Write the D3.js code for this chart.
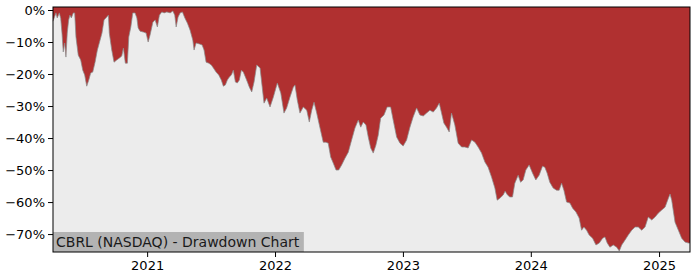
<!DOCTYPE html>
<html><head><meta charset="utf-8">
<script src="https://cdn.jsdelivr.net/npm/d3@7"></script>
<style>body{margin:0;background:#fff}svg{display:block}text{font-family:"DejaVu Sans",sans-serif}</style>
</head><body><svg id="c" width="700" height="280"></svg>
<script>
// decimal years
const dates = [2020.266,2020.289,2020.299,2020.315,2020.326,2020.336,2020.346,2020.357,2020.367,2020.377,2020.388,2020.398,2020.409,2020.424,2020.435,2020.445,2020.463,2020.482,2020.498,2020.513,2020.529,2020.545,2020.560,2020.576,2020.594,2020.612,2020.627,2020.648,2020.664,2020.685,2020.698,2020.705,2020.724,2020.742,2020.763,2020.784,2020.802,2020.815,2020.830,2020.846,2020.857,2020.873,2020.888,2020.906,2020.920,2020.930,2020.945,2020.971,2020.992,2021.008,2021.023,2021.045,2021.063,2021.080,2021.096,2021.115,2021.133,2021.154,2021.180,2021.201,2021.216,2021.227,2021.242,2021.258,2021.276,2021.295,2021.315,2021.336,2021.357,2021.367,2021.383,2021.409,2021.430,2021.445,2021.461,2021.482,2021.502,2021.518,2021.539,2021.560,2021.580,2021.596,2021.612,2021.627,2021.643,2021.659,2021.674,2021.690,2021.705,2021.721,2021.737,2021.752,2021.768,2021.784,2021.799,2021.818,2021.836,2021.857,2021.883,2021.914,2021.935,2021.961,2021.987,2022.018,2022.045,2022.070,2022.091,2022.117,2022.143,2022.156,2022.174,2022.195,2022.221,2022.248,2022.268,2022.287,2022.305,2022.326,2022.352,2022.377,2022.398,2022.416,2022.435,2022.455,2022.477,2022.498,2022.521,2022.547,2022.573,2022.599,2022.625,2022.651,2022.670,2022.690,2022.711,2022.729,2022.748,2022.768,2022.789,2022.807,2022.826,2022.852,2022.877,2022.904,2022.924,2022.951,2022.977,2023.002,2023.029,2023.055,2023.080,2023.107,2023.133,2023.159,2023.185,2023.211,2023.237,2023.263,2023.284,2023.302,2023.320,2023.341,2023.362,2023.380,2023.406,2023.432,2023.459,2023.484,2023.510,2023.537,2023.563,2023.588,2023.615,2023.641,2023.666,2023.693,2023.719,2023.737,2023.758,2023.784,2023.799,2023.818,2023.836,2023.857,2023.875,2023.901,2023.920,2023.940,2023.961,2023.987,2024.013,2024.039,2024.065,2024.091,2024.109,2024.127,2024.148,2024.174,2024.201,2024.221,2024.240,2024.258,2024.279,2024.305,2024.326,2024.352,2024.377,2024.396,2024.414,2024.435,2024.455,2024.482,2024.508,2024.534,2024.560,2024.578,2024.596,2024.617,2024.643,2024.670,2024.690,2024.709,2024.734,2024.760,2024.787,2024.813,2024.838,2024.865,2024.891,2024.916,2024.943,2024.969,2024.995,2025.021,2025.047,2025.073,2025.086,2025.099,2025.125,2025.151,2025.177,2025.203,2025.229,2025.242];
// drawdown, percent
const drawdown = [-3.5,-0.9,-2.5,-0.9,-2.6,-7.2,-13.1,-10.3,-14.7,-7.2,-3.1,-1.6,-2.5,-0.9,-0.9,-8.4,-14.1,-15.6,-18.8,-20.3,-23.8,-21.9,-19.7,-19.4,-16.3,-12.5,-10.3,-7.2,-3.1,-2.2,-1.6,-7.2,-12.5,-16.3,-15.6,-15.0,-14.4,-11.9,-16.6,-16.6,-8.4,-5.3,-0.9,-0.9,-2.5,-5.6,-6.6,-6.9,-7.2,-10.0,-7.8,-3.8,-3.1,-5.3,-1.6,-0.6,-0.9,-0.6,-0.9,-0.3,-1.6,-5.3,-2.2,-0.9,-0.6,-2.5,-4.1,-6.3,-9.4,-12.5,-10.3,-10.6,-10.9,-12.5,-16.3,-16.6,-17.2,-18.1,-19.4,-20.3,-21.9,-23.8,-23.4,-21.9,-20.9,-20.3,-18.8,-22.5,-22.8,-21.9,-18.8,-19.4,-20.9,-22.5,-24.1,-25.6,-22.5,-17.2,-18.1,-29.1,-27.5,-30.3,-27.2,-22.8,-25.9,-32.2,-30.6,-27.2,-24.1,-23.4,-28.1,-32.2,-30.3,-31.3,-35.0,-31.3,-28.8,-32.2,-36.9,-41.3,-41.3,-41.6,-45.9,-47.8,-50.0,-50.0,-48.4,-46.3,-44.4,-40.6,-36.9,-34.4,-36.6,-35.0,-35.9,-39.7,-43.1,-44.7,-42.2,-39.1,-33.8,-32.8,-30.3,-30.3,-34.4,-39.7,-41.6,-42.5,-40.6,-36.6,-33.4,-30.6,-32.8,-33.1,-32.2,-31.3,-31.9,-30.6,-29.1,-32.2,-35.3,-36.6,-38.1,-32.2,-35.9,-41.6,-42.8,-42.8,-43.1,-40.6,-41.3,-42.8,-44.7,-47.5,-49.1,-52.2,-55.6,-59.4,-58.8,-57.8,-56.6,-57.8,-58.4,-58.4,-54.1,-51.6,-53.8,-53.1,-50.0,-48.4,-50.9,-53.1,-51.6,-48.8,-49.1,-50.9,-53.8,-55.6,-56.3,-56.3,-54.1,-56.3,-60.0,-60.3,-61.9,-63.1,-65.0,-68.8,-67.8,-68.8,-70.3,-71.3,-73.4,-72.8,-71.3,-70.9,-72.8,-74.1,-73.4,-74.1,-75.3,-73.4,-71.9,-70.3,-68.8,-67.8,-67.8,-68.8,-67.8,-64.7,-65.6,-64.7,-63.4,-62.5,-61.6,-58.8,-57.5,-59.4,-66.3,-68.8,-71.3,-72.5,-72.8,-72.8];
const yTicks = [0,-10,-20,-30,-40,-50,-60,-70];
const xTickYears = [2021,2022,2023,2024,2025];
const title = "CBRL (NASDAQ) - Drawdown Chart";

function toDate(t){
  const y = Math.floor(t);
  const s = Date.UTC(y,0,1), e = Date.UTC(y+1,0,1);
  return new Date(s + (t-y)*(e-s));
}
const data = dates.map((d,i)=>({d:toDate(d), v:drawdown[i]}));

const L=53,R=690,T=7,B=252;
const svg=d3.select("#c");
const x=d3.scaleUtc().domain([toDate(2020.266),toDate(2025.242)]).range([L,R]);
const y=d3.scaleLinear().domain([-75.6,0.94]).range([B,T]);

svg.append("rect").attr("x",L).attr("y",T).attr("width",R-L).attr("height",B-T).attr("fill","#ececec");
svg.append("path").datum(data)
  .attr("d",d3.area().x(p=>x(p.d)).y0(T).y1(p=>y(p.v)))
  .attr("fill","#b03030");
svg.append("path").datum(data)
  .attr("d",d3.line().x(p=>x(p.d)).y(p=>y(p.v)))
  .attr("fill","none").attr("stroke","#8a8a8a").attr("stroke-width",0.9).attr("stroke-opacity",0.8);

// title box
const tg=svg.append("g");
const tt=tg.append("text").attr("x",L+3).attr("y",B-5).attr("font-size",14).attr("fill","#1a1a1a").text(title);
const bb=tt.node().getBBox();
tg.insert("rect","text").attr("x",L).attr("y",B-20).attr("width",bb.width+7).attr("height",20).attr("fill","#b3b3b3");

const yAxis=d3.axisLeft(y).tickValues(yTicks).tickSize(5).tickPadding(3).tickFormat(d=>(d<0?"\u2212":"")+Math.abs(d)+"%");
const gy=svg.append("g").attr("transform",`translate(${L},0)`).call(yAxis);
const xAxis=d3.axisBottom(x).tickValues(xTickYears.map(toDate)).tickSize(5).tickPadding(4).tickFormat(d3.utcFormat("%Y"));
const gx=svg.append("g").attr("transform",`translate(0,${B})`).call(xAxis);
[gx,gy].forEach(g=>{g.select(".domain").remove();g.selectAll("text").attr("font-size",13).attr("fill","#000").attr("font-family","DejaVu Sans");g.selectAll("line").attr("stroke","#000");});
svg.append("rect").attr("x",L).attr("y",T).attr("width",R-L).attr("height",B-T).attr("fill","none").attr("stroke","#000").attr("stroke-width",1);
</script></body></html>
